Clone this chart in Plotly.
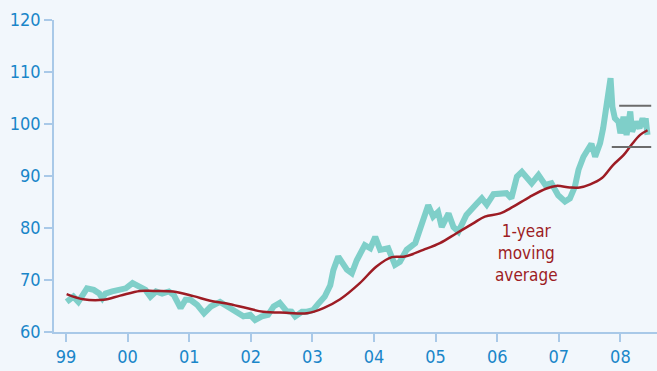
import plotly.graph_objects as go

# Daily price series (sampled), decimal year -> value
price_t = [1999.01, 1999.12, 1999.20, 1999.26, 1999.34, 1999.45, 1999.54, 1999.59, 1999.64, 1999.75,
           1999.86, 1999.97, 2000.08, 2000.19, 2000.29, 2000.37, 2000.46, 2000.56, 2000.67, 2000.75,
           2000.86, 2000.94, 2001.02, 2001.13, 2001.24, 2001.35, 2001.50, 2001.66, 2001.77, 2001.88,
           2001.99, 2002.07, 2002.18, 2002.28, 2002.37, 2002.47, 2002.58, 2002.66, 2002.72, 2002.83,
           2002.91, 2003.01, 2003.10, 2003.20, 2003.29, 2003.34, 2003.42, 2003.50, 2003.56, 2003.64,
           2003.72, 2003.85, 2003.94, 2004.02, 2004.10, 2004.23, 2004.34, 2004.42, 2004.53, 2004.67,
           2004.77, 2004.88, 2004.96, 2005.04, 2005.10, 2005.21, 2005.29, 2005.37, 2005.50, 2005.59,
           2005.67, 2005.75, 2005.83, 2005.94, 2006.05, 2006.15, 2006.23, 2006.32, 2006.40, 2006.48,
           2006.56, 2006.67, 2006.78, 2006.88, 2006.99, 2007.10, 2007.18, 2007.26, 2007.32, 2007.40,
           2007.45, 2007.53, 2007.59, 2007.67, 2007.72, 2007.78, 2007.81, 2007.84, 2007.87, 2007.91,
           2007.97, 2008.00, 2008.05, 2008.10, 2008.16, 2008.19, 2008.25, 2008.31, 2008.36, 2008.40,
           2008.41, 2008.44]
price_v = [65.8, 66.8, 65.8, 66.8, 68.4, 68.1, 67.4, 66.5, 67.4, 67.8,
           68.1, 68.4, 69.4, 68.7, 68.1, 66.8, 67.8, 67.4, 67.8, 67.1,
           64.6, 66.2, 66.2, 65.2, 63.6, 64.9, 65.8, 64.6, 63.9, 63.0,
           63.3, 62.3, 63.0, 63.3, 64.9, 65.6, 64.0, 63.9, 63.0, 63.9,
           63.9, 64.2, 65.5, 66.8, 69.0, 71.9, 74.5, 73.2, 72.0, 71.3,
           73.8, 76.7, 76.1, 78.3, 75.8, 76.1, 72.9, 73.5, 75.8, 77.1,
           80.9, 84.4, 82.2, 83.1, 80.2, 82.8, 80.2, 79.3, 82.5, 83.5,
           84.7, 85.7, 84.5, 86.5, 86.7, 86.7, 85.7, 89.9, 90.8, 89.6,
           88.6, 90.2, 88.3, 88.6, 86.3, 85.1, 85.7, 87.9, 91.2, 93.7,
           94.5, 96.2, 93.7, 96.3, 99.2, 104.0, 104.6, 108.8, 103.3, 101.1,
           100.4, 98.2, 101.4, 97.9, 102.4, 98.5, 100.4, 99.2, 101.1, 99.5,
           101.1, 97.9]

# 1-year moving average
ma_t = [1999.01, 1999.28, 1999.61, 1999.88, 2000.20, 2000.42, 2000.74, 2001.07, 2001.34, 2001.61,
        2001.93, 2002.20, 2002.58, 2002.91, 2003.18, 2003.45, 2003.77, 2004.04, 2004.29, 2004.50,
        2004.80, 2005.07, 2005.34, 2005.61, 2005.80, 2006.05, 2006.26, 2006.53, 2006.80, 2006.96,
        2007.18, 2007.34, 2007.51, 2007.70, 2007.88, 2008.05, 2008.18, 2008.32, 2008.44]
ma_v = [67.3, 66.3, 66.2, 67.0, 67.9, 67.9, 67.8, 66.9, 66.0, 65.5,
        64.6, 63.9, 63.7, 63.6, 64.6, 66.3, 69.4, 72.6, 74.4, 74.5,
        75.8, 77.1, 79.0, 80.9, 82.2, 82.8, 84.1, 86.0, 87.6, 88.1,
        87.8, 87.8, 88.4, 89.6, 92.1, 94.0, 96.0, 97.9, 98.8]

# Range band markers
band_upper = 103.5
band_lower = 95.6
band_upper_t = [2007.98, 2008.50]
band_lower_t = [2007.86, 2008.50]

tick_years = [1999, 2000, 2001, 2002, 2003, 2004, 2005, 2006, 2007, 2008]
tick_labels = ["99", "00", "01", "02", "03", "04", "05", "06", "07", "08"]
y_ticks = [60, 70, 80, 90, 100, 110, 120]

BG = "#f2f7fc"
AXIS = "#a9c9e8"
BLUE = "#1a86c9"
TEAL = "#7fcfc9"
RED = "#9d1c24"
FONT = "Liberation Sans Narrow, DejaVu Sans Condensed, Roboto, sans-serif"

fig = go.Figure()
fig.add_trace(go.Scatter(x=price_t, y=price_v, mode="lines",
                         line=dict(color=TEAL, width=6), hoverinfo="skip"))
fig.add_trace(go.Scatter(x=ma_t, y=ma_v, mode="lines",
                         line=dict(color=RED, width=2.5, shape="spline"), hoverinfo="skip"))
fig.add_trace(go.Scatter(x=band_upper_t, y=[band_upper] * 2, mode="lines",
                         line=dict(color="#6b6b6b", width=2), hoverinfo="skip"))
fig.add_trace(go.Scatter(x=band_lower_t, y=[band_lower] * 2, mode="lines",
                         line=dict(color="#6b6b6b", width=2), hoverinfo="skip"))

fig.add_annotation(x=2006.48, y=75.2, xref="x", yref="y",
                   text="1-year<br>moving<br>average", showarrow=False,
                   font=dict(family=FONT, size=17, color=RED), align="center")

fig.update_layout(
    width=657, height=371,
    margin=dict(l=54, r=0, t=20, b=39),
    paper_bgcolor=BG, plot_bgcolor=BG,
    showlegend=False,
    font=dict(family=FONT, size=18, color=BLUE),
)
fig.update_xaxes(range=[1998.805, 2008.594], tickvals=tick_years, ticktext=tick_labels,
                 showgrid=False, zeroline=False, showline=True, linecolor=AXIS, linewidth=1.5,
                 ticks="outside", ticklen=8, tickcolor=AXIS, tickwidth=1.5,
                 tickfont=dict(family=FONT, size=18, color=BLUE))
fig.update_yaxes(range=[60, 120], tickvals=y_ticks,
                 showgrid=False, zeroline=False, showline=True, linecolor=AXIS, linewidth=1.5,
                 ticks="outside", ticklen=8, tickcolor=AXIS, tickwidth=1.5,
                 tickfont=dict(family=FONT, size=18, color=BLUE))

fig.write_html("out.html")
